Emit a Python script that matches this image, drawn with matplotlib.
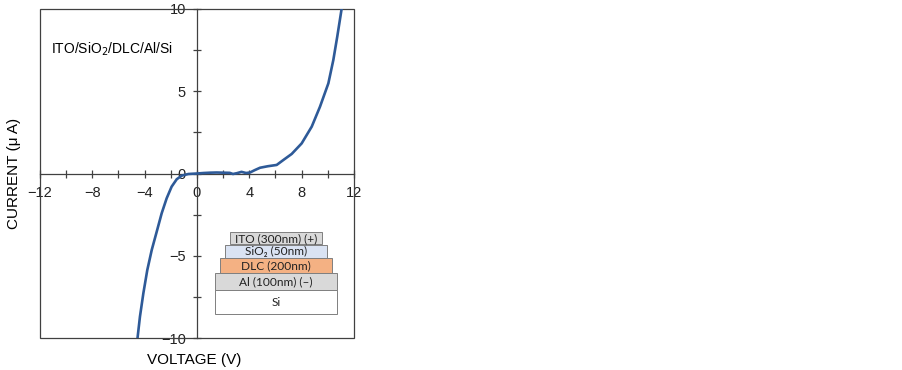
import matplotlib.pyplot as plt
from matplotlib.patches import Rectangle
from matplotlib.ticker import MultipleLocator

# I-V curve (V in volts, I in microamps)
voltage = [-4.62, -4.56, -4.36, -4.10, -3.80, -3.46, -3.08, -2.70, -2.32, -1.94,
           -1.55, -1.17, -0.66, 0.0, 0.5, 1.0, 1.5, 2.0, 2.5, 2.75, 3.05, 3.4,
           3.75, 4.05, 4.4, 4.82, 5.4, 6.09, 6.6, 7.24, 8.0, 8.77, 9.4, 10.04,
           10.42, 10.72, 11.06, 11.15]
current = [-10.6, -10.1, -8.7, -7.28, -5.87, -4.65, -3.54, -2.42, -1.51, -0.80,
           -0.35, -0.13, -0.03, 0.0, 0.03, 0.05, 0.06, 0.05, 0.04, -0.03, 0.02, 0.1,
           0.03, 0.06, 0.2, 0.35, 0.44, 0.52, 0.82, 1.19, 1.83, 2.85, 4.06, 5.48,
           6.9, 8.32, 10.04, 10.6]

stack_text = 'ITO/SiO$_2$/DLC/Al/Si'
layer_labels = ['ITO (300nm) (+)', 'SiO₂ (50nm)', 'DLC (200nm)', 'Al (100nm) (–)', 'Si']
layer_colors = ['#d9d9d9', '#dae3f3', '#f4b183', '#d9d9d9', '#ffffff']

plt.rcParams['font.family'] = ['Liberation Sans', 'DejaVu Sans']

W, H = 903, 370
fig = plt.figure(figsize=(W / 100, H / 100), dpi=100)
fig.patch.set_facecolor('white')

# axes box in pixels: left 40, right 354, top 9, bottom 338
ax = fig.add_axes([40 / W, (H - 338) / H, 314 / W, 329 / H])
ax.set_xlim(-12, 12)
ax.set_ylim(-10, 10)

axis_col = '#404040'
for side in ['top', 'right']:
    ax.spines[side].set_visible(False)
for side in ['left', 'bottom']:
    ax.spines[side].set_position('zero')
    ax.spines[side].set_color(axis_col)
    ax.spines[side].set_linewidth(0.9)
ax.add_patch(Rectangle((0, 0), 1, 1, transform=ax.transAxes, fill=False,
                       edgecolor=axis_col, linewidth=0.9, clip_on=False, zorder=3))

ax.xaxis.set_major_locator(MultipleLocator(4))
ax.xaxis.set_minor_locator(MultipleLocator(2))
ax.yaxis.set_major_locator(MultipleLocator(5))
ax.yaxis.set_minor_locator(MultipleLocator(2.5))
ax.tick_params(which='both', direction='inout', length=6, width=0.9, color=axis_col,
               labelsize=10.5, labelcolor='#222222')
ax.tick_params(axis='x', which='major', pad=6)
ax.tick_params(axis='y', which='major', pad=5)
ax.set_xticklabels([f'{int(v)}'.replace('-', '−') for v in ax.get_xticks()])
ax.set_yticklabels([f'{int(v)}'.replace('-', '−') for v in ax.get_yticks()])

ax.plot(voltage, current, color='#2e5a98', linewidth=1.9, zorder=4,
        solid_joinstyle='round', solid_capstyle='round')

fig.text(194 / W, 1 - 360 / H, 'VOLTAGE (V)', ha='center', va='center', fontsize=11)
fig.text(14 / W, 1 - 173 / H, 'CURRENT (μ A)', ha='center', va='center',
         rotation=90, fontsize=11)
fig.text(51 / W, 1 - 49 / H, stack_text, ha='left', va='center', fontsize=10)

# layer stack drawing (pixel boxes: x center 275.8)
boxes = [(92, 232.3, 12.0), (102, 245.0, 12.7), (112, 258.3, 14.4),
         (122.3, 272.7, 17.3), (122.3, 290.0, 24.3)]
for (bw, top, bh), lab, col in zip(boxes, layer_labels, layer_colors):
    x0 = 275.8 - bw / 2
    fig.patches.append(Rectangle((x0 / W, 1 - (top + bh) / H), bw / W, bh / H,
                                 transform=fig.transFigure, facecolor=col,
                                 edgecolor='#7f7f7f', linewidth=0.7))
    fig.text(275.8 / W, 1 - (top + bh / 2) / H, lab, ha='center', va='center',
             fontsize=8.6, family=['Lato', 'DejaVu Sans'], color='#222222')

fig.savefig('out.png', dpi=100, facecolor='white')
